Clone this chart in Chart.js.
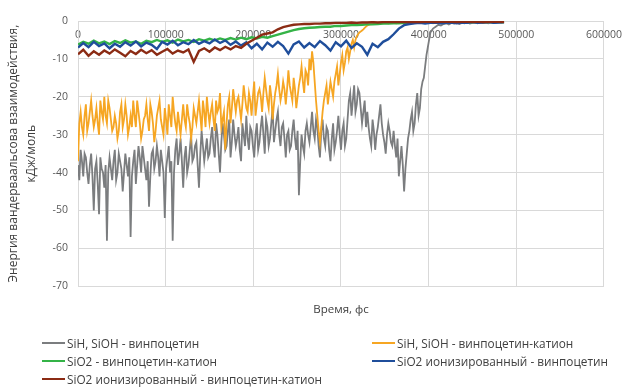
<!DOCTYPE html>
<html lang="ru">
<head>
    <meta charset="UTF-8">
    <title>Энергия вандерваальсова взаимодействия</title>
    <script src="https://cdn.jsdelivr.net/npm/chart.js"></script>
    <style>
        html, body { margin: 0; padding: 0; background: #fff; }
        .wrap { position: relative; width: 630px; height: 389px; }
        #legenda {
            position: absolute; left: 0; top: 0; width: 630px; height: 389px;
            font-family: 'Open Sans', sans-serif; font-size: 11.8px; color: #404040;
            pointer-events: none;
        }
        .item { position: absolute; display: flex; align-items: center; white-space: nowrap; height: 14px; }
        .item .line { display: inline-block; width: 23px; height: 2px; margin-right: 2px; }
    </style>
</head>
<body>
<div class="wrap">
    <canvas id="energyChart" width="630" height="389"></canvas>
    <div id="legenda"></div>
</div>

<script>
    // время, фс (шаг 3000 и 6000)
    var vremyaChasto = [
        0, 3000, 6000, 9000, 12000, 15000, 18000, 21000, 24000, 27000,
        30000, 33000, 36000, 39000, 42000, 45000, 48000, 51000, 54000, 57000,
        60000, 63000, 66000, 69000, 72000, 75000, 78000, 81000, 84000, 87000,
        90000, 93000, 96000, 99000, 102000, 105000, 108000, 111000, 114000, 117000,
        120000, 123000, 126000, 129000, 132000, 135000, 138000, 141000, 144000, 147000,
        150000, 153000, 156000, 159000, 162000, 165000, 168000, 171000, 174000, 177000,
        180000, 183000, 186000, 189000, 192000, 195000, 198000, 201000, 204000, 207000,
        210000, 213000, 216000, 219000, 222000, 225000, 228000, 231000, 234000, 237000,
        240000, 243000, 246000, 249000, 252000, 255000, 258000, 261000, 264000, 267000,
        270000, 273000, 276000, 279000, 282000, 285000, 288000, 291000, 294000, 297000,
        300000, 303000, 306000, 309000, 312000, 315000, 318000, 321000, 324000, 327000,
        330000, 333000, 336000, 339000, 342000, 345000, 348000, 351000, 354000, 357000,
        360000, 363000, 366000, 369000, 372000, 375000, 378000, 381000, 384000, 387000,
        390000, 393000, 396000, 399000, 402000, 405000, 408000, 411000, 414000, 417000,
        420000, 423000, 426000, 429000, 432000, 435000, 438000, 441000, 444000, 447000,
        450000, 453000, 456000, 459000, 462000, 465000, 468000, 471000, 474000, 477000,
        480000, 483000, 486000
    ];
    // промежуточные моменты для шумных рядов
    var vremyaSeredina = [
        1500, 4500, 7500, 10500, 13500, 16500, 19500, 22500, 25500, 28500,
        31500, 34500, 37500, 40500, 43500, 46500, 49500, 52500, 55500, 58500,
        61500, 64500, 67500, 70500, 73500, 76500, 79500, 82500, 85500, 88500,
        91500, 94500, 97500, 100500, 103500, 106500, 109500, 112500, 115500, 118500,
        121500, 124500, 127500, 130500, 133500, 136500, 139500, 142500, 145500, 148500,
        151500, 154500, 157500, 160500, 163500, 166500, 169500, 172500, 175500, 178500,
        181500, 184500, 187500, 190500, 193500, 196500, 199500, 202500, 205500, 208500,
        211500, 214500, 217500, 220500, 223500, 226500, 229500, 232500, 235500, 238500,
        241500, 244500, 247500, 250500, 253500, 256500, 259500, 262500, 265500, 268500,
        271500, 274500, 277500, 280500, 283500, 286500, 289500, 292500, 295500, 298500,
        301500, 304500, 307500, 310500, 313500, 316500, 319500, 322500, 325500, 328500,
        331500, 334500, 337500, 340500, 343500, 346500, 349500, 352500, 355500, 358500,
        361500, 364500, 367500, 370500, 373500, 376500, 379500, 382500, 385500, 388500,
        391500, 394500, 397500, 400500
    ];
    var vremyaRedko = [
        0, 6000, 12000, 18000, 24000, 30000, 36000, 42000, 48000, 54000,
        60000, 66000, 72000, 78000, 84000, 90000, 96000, 102000, 108000, 114000,
        120000, 126000, 132000, 138000, 144000, 150000, 156000, 162000, 168000, 174000,
        180000, 186000, 192000, 198000, 204000, 210000, 216000, 222000, 228000, 234000,
        240000, 246000, 252000, 258000, 264000, 270000, 276000, 282000, 288000, 294000,
        300000, 306000, 312000, 318000, 324000, 330000, 336000, 342000, 348000, 354000,
        360000, 366000, 372000, 378000, 384000, 390000, 396000, 402000, 408000, 414000,
        420000, 426000, 432000, 438000, 444000, 450000, 456000, 462000, 468000, 474000,
        480000, 486000
    ];

    // SiH, SiOH - винпоцетин (шаг 3000)
    var seryj = [
        -38, -34, -41, -36, -43, -35, -50, -37, -51, -39,
        -44, -58, -36, -42, -34, -40, -37, -45, -35, -41,
        -57, -37, -43, -33, -40, -36, -42, -49, -35, -39,
        -33, -41, -37, -52, -36, -40, -58, -34, -38, -31,
        -44, -33, -38, -30, -36, -32, -44, -29, -37, -31,
        -35, -28, -36, -30, -40, -27, -34, -29, -36, -26,
        -33, -28, -37, -30, -25, -34, -29, -36, -27, -32,
        -25, -35, -28, -31, -23, -29, -24, -33, -27, -36,
        -29, -33, -26, -34, -46, -30, -35, -27, -32, -24,
        -31, -28, -36, -26, -33, -29, -37, -27, -32, -25,
        -34, -27, -31, -21, -25, -17, -22, -19, -27, -21,
        -24, -31, -26, -34, -28, -22, -30, -35, -27, -32,
        -29, -36, -41, -33, -45, -35, -29, -24, -27, -19,
        -23, -16, -12, -7, -3, -2, -1.5, -1, -1.2, -0.8,
        -0.6, -0.9, -0.5, -0.7, -0.4, -0.8, -0.5, -0.6, -0.3, -0.7,
        -0.5, -0.4, -0.6, -0.3, -0.5, -0.4, -0.6, -0.3, -0.5, -0.4,
        -0.3, -0.5, -0.4
    ];
    var seryjSeredina = [
        -42, -37, -35, -40, -38, -41, -39, -43, -36, -40,
        -38, -40, -39, -37, -42, -35, -39, -40, -38, -36,
        -41, -34, -38, -36, -33, -39, -37, -41, -34, -37,
        -36, -34, -40, -39, -33, -37, -40, -31, -35, -37,
        -36, -40, -34, -37, -33, -38, -35, -33, -34, -36,
        -31, -33, -27, -35, -32, -30, -33, -26, -32, -30,
        -31, -34, -27, -33, -31, -28, -33, -30, -34, -28,
        -30, -26, -33, -27, -32, -26, -30, -28, -31, -30,
        -34, -29, -31, -29, -37, -33, -29, -30, -28, -29,
        -26, -33, -29, -31, -28, -34, -31, -34, -29, -30,
        -29, -33, -26, -19, -21, -24, -18, -23, -24, -28,
        -28, -33, -29, -30, -25, -27, -32, -30, -29, -33,
        -33, -31, -37, -38, -39, -31, -26, -29, -22, -25,
        -18, -15, -9, -5
    ];
    // SiH, SiOH - винпоцетин-катион (шаг 3000)
    var oranzhevyj = [
        -37, -24, -30, -22, -27, -21, -28, -23, -30, -24,
        -20, -27, -23, -29, -25, -31, -24, -28, -22, -30,
        -25, -21, -28, -24, -31, -26, -22, -29, -24, -32,
        -25, -21, -28, -23, -30, -25, -20, -27, -24, -30,
        -22, -28, -25, -31, -23, -27, -21, -29, -24, -20,
        -27, -22, -29, -24, -19, -26, -34, -22, -27, -18,
        -24, -20, -26, -17, -23, -19, -25, -16, -22, -18,
        -24, -15, -21, -17, -26, -19, -14, -21, -16, -22,
        -13, -19, -15, -23, -17, -12, -19, -14, -10, -8,
        -16, -25, -32, -24, -19, -22, -16, -20, -14, -17,
        -11, -13, -8, -10, -6, -7, -4, -3, -2.5, -1.8,
        -1.2, -0.9, -0.8, -0.6, -0.7, -0.5, -0.6, -0.4, -0.6, -0.5,
        -0.4, -0.6, -0.5, -0.3, -0.5, -0.4, -0.6, -0.4, -0.5, -0.3,
        -0.5, -0.4, -0.3, -0.5, -0.4, -0.6, -0.3, -0.4, -0.5, -0.3,
        -0.4, -0.5, -0.3, -0.4, -0.3, -0.5, -0.4, -0.3, -0.4, -0.3,
        -0.4, -0.3, -0.5, -0.3, -0.4, -0.3, -0.4, -0.3, -0.4, -0.3,
        -0.3, -0.4, -0.3
    ];
    var oranzhevyjSeredina = [
        -27, -28, -25, -29, -24, -25, -26, -27, -21, -26,
        -25, -21, -26, -28, -27, -29, -22, -26, -25, -28,
        -28, -25, -21, -27, -29, -25, -26, -22, -27, -29,
        -23, -26, -30, -26, -22, -28, -24, -29, -27, -26,
        -26, -22, -27, -28, -25, -24, -25, -21, -28, -24,
        -24, -26, -21, -23, -28, -24, -27, -20, -23, -21,
        -21, -23, -22, -20, -24, -21, -20, -25, -19, -20,
        -19, -18, -23, -20, -22, -17, -18, -19, -18, -18,
        -17, -21, -18, -20, -15, -16, -13, -17, -13, -11,
        -21, -29, -28, -21, -17, -19, -18, -16, -12, -14,
        -9, -11, -7, -8, -5, -5, -3.5, -2.8, -2.2, -1.5
    ];
    // SiO2 - винпоцетин-катион (шаг 6000)
    var zelenyj = [
        -6.2, -5.5, -6.0, -5.2, -5.9, -5.4, -6.1, -5.3, -5.8, -5.1,
        -5.7, -5.4, -6.0, -5.2, -5.6, -5.0, -5.5, -5.1, -5.7, -4.9,
        -5.4, -5.0, -5.5, -4.8, -5.2, -4.7, -5.1, -4.6, -5.0, -4.5,
        -4.9, -4.4, -4.8, -4.3, -4.6, -4.2, -4.4, -4.0, -3.6, -3.2,
        -2.8, -2.4, -2.1, -1.9, -1.8, -1.7, -1.6, -1.5, -1.5, -1.3,
        -1.3, -1.2, -1.1, -1.1, -1.0, -0.9, -0.9, -0.8, -0.7, -0.7,
        -0.6, -0.6, -0.5, -0.5, -0.4, -0.5, -0.4, -0.4, -0.3, -0.4,
        -0.3, -0.4, -0.3, -0.3, -0.4, -0.3, -0.3, -0.2, -0.3, -0.3,
        -0.2, -0.3
    ];
    // SiO2 ионизированный - винпоцетин (шаг 6000)
    var sinij = [
        -7.0, -5.8, -6.9, -5.5, -6.6, -5.9, -7.2, -6.0, -6.8, -5.6,
        -6.5, -5.4, -6.7, -5.7, -6.3, -7.4, -5.5, -6.2, -5.2, -6.4,
        -5.6, -6.1, -5.0, -6.0, -5.3, -5.9, -4.9, -5.8, -5.1, -6.3,
        -5.4, -6.5, -5.6, -7.2, -6.0, -7.5, -5.7, -6.8, -5.5, -6.6,
        -8.6, -6.2, -5.4, -7.0, -5.8, -6.9, -5.3, -6.4, -7.8, -5.6,
        -6.7, -5.2, -7.1, -5.9, -6.8, -8.9, -6.0, -6.9, -5.5, -4.8,
        -3.5, -2.0, -1.1, -0.8, -0.6, -0.5, -0.7, -0.5, -0.4, -0.6,
        -0.5, -0.4, -0.6, -0.4, -0.5, -0.3, -0.5, -0.4, -0.3, -0.5,
        -0.4, -0.3
    ];
    // SiO2 ионизированный - винпоцетин-катион (шаг 6000)
    var korichnevyj = [
        -8.8, -7.6, -9.2, -8.0, -8.9, -7.8, -8.6, -7.5, -8.4, -9.3,
        -7.9, -8.7, -7.6, -8.5, -7.7, -8.9, -8.1, -7.4, -8.6, -7.8,
        -8.3, -7.5, -10.8, -7.9, -7.2, -8.1, -7.0, -7.7, -6.8, -7.5,
        -6.6, -7.1, -6.0, -5.2, -4.4, -3.6, -3.3, -3.0, -2.2, -1.6,
        -1.3, -1.0, -0.9, -0.8, -0.8, -0.7, -0.7, -0.6, -0.6, -0.5,
        -0.5, -0.5, -0.4, -0.5, -0.4, -0.4, -0.3, -0.4, -0.3, -0.3,
        -0.3, -0.3, -0.2, -0.3, -0.2, -0.3, -0.2, -0.2, -0.3, -0.2,
        -0.2, -0.2, -0.3, -0.2, -0.2, -0.2, -0.2, -0.3, -0.2, -0.2,
        -0.2, -0.2
    ];

    var nazvaniya = [
        'SiH, SiOH - винпоцетин',
        'SiH, SiOH - винпоцетин-катион',
        'SiO2 - винпоцетин-катион',
        'SiO2 ионизированный - винпоцетин',
        'SiO2 ионизированный - винпоцетин-катион'
    ];
    var cveta = ['#7b7d7f', '#f6a623', '#34b347', '#1f4e9b', '#8b2b14'];
    var yTitle = ['Энергия вандерваальсова взаимодействия,', 'кДж/моль'];
    var xTitle = 'Время, фс';

    function tochki(t, v) {
        return v.map(function (y, i) { return { x: t[i], y: y }; });
    }
    // основной ряд + промежуточные точки, по порядку времени
    function sobrat(t, v, tMid, vMid) {
        return tochki(t, v).concat(tochki(tMid, vMid))
            .sort(function (a, b) { return a.x - b.x; });
    }

    var ryady = [
        sobrat(vremyaChasto, seryj, vremyaSeredina, seryjSeredina),
        sobrat(vremyaChasto, oranzhevyj, vremyaSeredina, oranzhevyjSeredina),
        tochki(vremyaRedko, zelenyj),
        tochki(vremyaRedko, sinij),
        tochki(vremyaRedko, korichnevyj)
    ];

    var shrift = "'Open Sans', sans-serif";
    var ctx = document.getElementById('energyChart').getContext('2d');
    var energyChart = new Chart(ctx, {
        type: 'line',
        data: {
            datasets: ryady.map(function (d, i) {
                return {
                    label: nazvaniya[i],
                    data: d,
                    borderColor: cveta[i],
                    borderWidth: i < 2 ? 1.8 : 2.4,
                    borderJoinStyle: 'miter',
                    pointRadius: 0,
                    tension: 0,
                    fill: false,
                    order: 5 - i
                };
            })
        },
        options: {
            responsive: false,
            animation: false,
            layout: { padding: { top: 21, right: 23, bottom: 72, left: 0 } },
            plugins: {
                legend: { display: false },
                tooltip: { enabled: false }
            },
            scales: {
                x: {
                    type: 'linear',
                    position: { y: 0 },
                    min: 0, max: 600000,
                    ticks: {
                        stepSize: 100000, maxRotation: 0, autoSkip: false, padding: 8,
                        color: '#595959', font: { family: shrift, size: 10.5 },
                        callback: function (v) { return String(v); }
                    },
                    grid: { color: '#d9d9d9', drawTicks: false },
                    border: { display: false }
                },
                x2: {
                    type: 'linear',
                    position: 'bottom',
                    min: 0, max: 600000,
                    ticks: { display: false },
                    grid: { display: false, drawTicks: false },
                    border: { display: false },
                    title: {
                        display: true, text: xTitle, color: '#404040',
                        font: { family: shrift, size: 11.5 },
                        padding: { top: 17, bottom: 0 }
                    }
                },
                y: {
                    min: -70, max: 0,
                    ticks: {
                        stepSize: 10, padding: 10,
                        color: '#595959', font: { family: shrift, size: 10.5 }
                    },
                    grid: { color: '#d9d9d9', drawTicks: false },
                    border: { color: '#d9d9d9' },
                    title: {
                        display: true, text: yTitle, color: '#404040',
                        font: { family: shrift, size: 12, lineHeight: 1.45 },
                        padding: { top: 5, bottom: 0 }
                    },
                    afterFit: function (scale) { scale.width = 78; }
                }
            }
        }
    });

    // легенда в две колонки, как в Excel
    var legenda = document.getElementById('legenda');
    nazvaniya.forEach(function (name, i) {
        var el = document.createElement('div');
        el.className = 'item';
        el.style.left = (i % 2 === 0 ? 42 : 372) + 'px';
        el.style.top = (336 + Math.floor(i / 2) * 18) + 'px';
        el.innerHTML = '<span class="line" style="background:' + cveta[i] + '"></span>';
        el.appendChild(document.createTextNode(name));
        legenda.appendChild(el);
    });
</script>
</body>
</html>
